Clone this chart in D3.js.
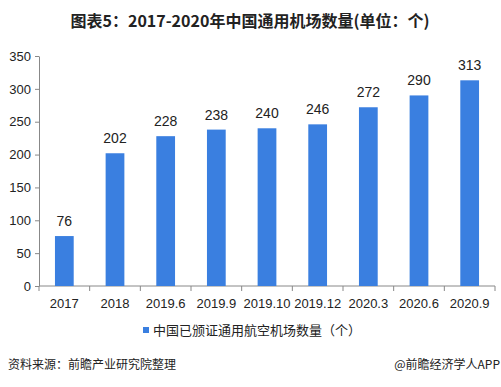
<!DOCTYPE html>
<html><head><meta charset="utf-8">
<script src="https://cdn.jsdelivr.net/npm/d3@7"></script>
<style>body{margin:0;background:#fff}svg{display:block}</style>
</head><body>
<script>
const categories = ["2017","2018","2019.6","2019.9","2019.10","2019.12","2020.3","2020.6","2020.9"];
const values = [76,202,228,238,240,246,272,290,313];
const yTicks = [0,50,100,150,200,250,300,350];
const title = "图表5：2017-2020年中国通用机场数量(单位：个)";
const legendLabel = "中国已颁证通用航空机场数量（个）";
const source = "资料来源：前瞻产业研究院整理";
const credit = "@前瞻经济学人APP";

const W = 501, H = 387;
const svg = d3.select("body").append("svg").attr("width", W).attr("height", H);
const font = "'Liberation Sans', Arial, 'Noto Sans CJK SC', sans-serif";
const cjk = "'Noto Sans CJK SC', sans-serif";

const x = d3.scaleBand().domain(categories).range([39, 495]).paddingInner(0.63).paddingOuter(0.315);
const y = d3.scaleLinear().domain([0, 350]).range([286, 56]);

svg.append("text").attr("x", 250).attr("y", 27).attr("text-anchor", "middle")
  .attr("font-family", cjk).attr("font-weight", "bold").attr("font-size", 16).attr("fill", "#222").text(title);

// y axis
const ya = svg.append("g").attr("transform", "translate(39,0)").call(d3.axisLeft(y).tickValues(yTicks).tickSize(4).tickSizeOuter(0));
ya.select(".domain").attr("stroke", "#888");
ya.selectAll(".tick line").attr("stroke", "#888");
ya.selectAll(".tick text").attr("font-family", font).attr("font-size", 13).attr("fill", "#222").attr("x", -8);

// x axis
const band = x.step();
const xa = svg.append("g").attr("transform", "translate(0,286)");
xa.append("line").attr("x1", 39).attr("x2", 495).attr("stroke", "#888");
const bounds = [39].concat(categories.map((c, i) => 39 + band * 0.315 * 0 + (495 - 39) / categories.length * (i + 1)));
xa.selectAll(".tk").data(bounds).join("line").attr("x1", d => d).attr("x2", d => d).attr("y1", 0).attr("y2", 5).attr("stroke", "#888");
xa.selectAll(".lb").data(categories).join("text")
  .attr("x", d => x(d) + x.bandwidth() / 2).attr("y", 22).attr("text-anchor", "middle")
  .attr("font-family", font).attr("font-size", 13).attr("fill", "#222").text(d => d);

// bars
svg.selectAll(".bar").data(values).join("rect")
  .attr("x", (d, i) => x(categories[i])).attr("width", x.bandwidth())
  .attr("y", d => y(d)).attr("height", d => y(0) - y(d)).attr("fill", "#3a7fe0");

svg.selectAll(".val").data(values).join("text")
  .attr("x", (d, i) => x(categories[i]) + x.bandwidth() / 2).attr("y", d => y(d) - 10)
  .attr("text-anchor", "middle").attr("font-family", font).attr("font-size", 14).attr("fill", "#222").text(d => d);

// legend
svg.append("rect").attr("x", 143).attr("y", 327).attr("width", 6).attr("height", 6).attr("fill", "#3a7fe0");
svg.append("text").attr("x", 153).attr("y", 335).attr("font-family", cjk).attr("font-size", 13).attr("fill", "#222").text(legendLabel);

// footer
svg.append("text").attr("x", 8).attr("y", 369).attr("font-family", cjk).attr("font-size", 12).attr("fill", "#222").text(source);
svg.append("text").attr("x", 500).attr("y", 369).attr("text-anchor", "end").attr("font-family", cjk).attr("font-size", 12).attr("fill", "#222").text(credit);
</script>
</body></html>
